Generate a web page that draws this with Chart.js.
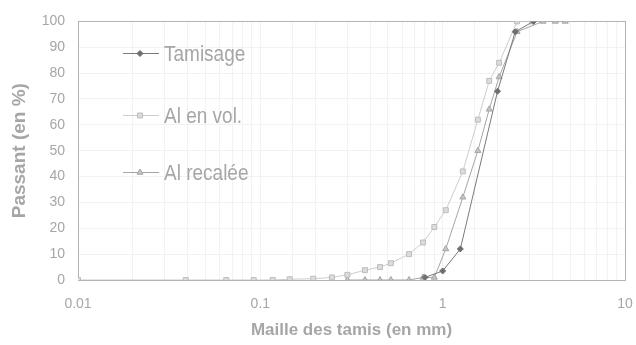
<!DOCTYPE html>
<html>
<head>
<meta charset="utf-8">
<script src="https://cdn.jsdelivr.net/npm/chart.js@4/dist/chart.umd.min.js"></script>
<style>
  html, body { margin: 0; padding: 0; background: #fff; }
  #wrap { width: 636px; height: 345px; position: relative; }
</style>
</head>
<body>
<div id="wrap"><canvas id="c" width="636" height="345"></canvas></div>
<script>
// Sieve openings (mm) and passing percentages
const tamisageX = [0.8, 1.0, 1.25, 2.0, 2.5, 3.15];
const tamisageY = [1, 3.5, 12, 73, 96, 100];

const aiVolX = [0.01, 0.039, 0.065, 0.092, 0.117, 0.145, 0.195, 0.247, 0.3, 0.375, 0.453, 0.52, 0.654, 0.78, 0.9, 1.04, 1.29, 1.56, 1.8, 2.04, 2.56, 3.1];
const aiVolY = [0, 0, 0, 0, 0, 0.3, 0.5, 1, 2, 3.8, 5, 6.5, 10, 14.5, 20.5, 27, 42, 62, 77, 84, 100, 100];

const aiRecX = [0.3, 0.375, 0.453, 0.52, 0.654, 0.78, 0.9, 1.04, 1.29, 1.56, 1.8, 2.04, 2.56, 3.55, 4.15, 4.7];
const aiRecY = [0, 0, 0, 0, 0, 1, 1, 12, 32, 50, 66, 78.5, 96, 100, 100, 100];

const xTickLabels = ['0.01', '0.1', '1', '10'];
const yTicks = [0, 10, 20, 30, 40, 50, 60, 70, 80, 90, 100];

const seriesNames = ['Tamisage', 'Al en vol.', 'Al recalée'];

const toPoints = (xs, ys) => xs.map((x, i) => ({ x: x, y: ys[i] }));

const txt = '#a6a6a6';
const FONT = '"Liberation Sans", Arial, sans-serif';

// Frame around the plotting area
const frame = {
  id: 'frame',
  beforeDatasetsDraw(chart) {
    const a = chart.chartArea;
    const ctx = chart.ctx;
    ctx.save();
    ctx.strokeStyle = '#b4b4b4';
    ctx.lineWidth = 1;
    ctx.strokeRect(Math.round(a.left) + 0.5, Math.round(a.top) + 0.5,
                   Math.round(a.right - a.left), Math.round(a.bottom - a.top));
    ctx.restore();
  }
};

// Legend drawn inside the plot area, with each dataset's own line and marker
const innerLegend = {
  id: 'innerLegend',
  afterDatasetsDraw(chart) {
    const ctx = chart.ctx;
    const rows = [53, 115, 172];
    ctx.save();
    chart.data.datasets.forEach((ds, i) => {
      const y = rows[i] + 0.5;
      ctx.strokeStyle = ds.borderColor;
      ctx.lineWidth = 1;
      ctx.beginPath();
      ctx.moveTo(123, y);
      ctx.lineTo(159, y);
      ctx.stroke();
      ctx.fillStyle = ds.pointBackgroundColor;
      ctx.strokeStyle = ds.pointBorderColor;
      Chart.helpers.drawPoint(ctx, {
        pointStyle: ds.pointStyle,
        radius: ds.pointRadius,
        rotation: 0,
        borderWidth: 1
      }, 140, y);
      // label, slightly tall lettering
      ctx.save();
      ctx.translate(164, y + 1);
      ctx.scale(1, 1.15);
      ctx.fillStyle = txt;
      ctx.font = '19px ' + FONT;
      ctx.textBaseline = 'middle';
      ctx.textAlign = 'left';
      ctx.fillText(ds.label, 0, 0);
      ctx.restore();
    });
    ctx.restore();
  }
};

const datasets = [
  {
    label: seriesNames[0],
    data: toPoints(tamisageX, tamisageY),
    borderColor: '#7a7a7a',
    pointStyle: 'rectRot',
    pointRadius: 3,
    pointBorderColor: '#6e6e6e',
    pointBackgroundColor: '#6e6e6e',
    borderWidth: 1,
    tension: 0
  },
  {
    label: seriesNames[1],
    data: toPoints(aiVolX, aiVolY),
    borderColor: '#cdcdcd',
    pointStyle: 'rect',
    pointRadius: 3.5,
    pointBorderColor: '#bdbdbd',
    pointBackgroundColor: '#dcdcdc',
    borderWidth: 1,
    tension: 0
  },
  {
    label: seriesNames[2],
    data: toPoints(aiRecX, aiRecY),
    borderColor: '#a6a6a6',
    pointStyle: 'triangle',
    pointRadius: 3.5,
    pointBorderColor: '#a6a6a6',
    pointBackgroundColor: '#c4c4c4',
    borderWidth: 1,
    tension: 0
  }
];

new Chart(document.getElementById('c'), {
  type: 'line',
  data: { datasets: datasets },
  options: {
    responsive: false,
    animation: false,
    devicePixelRatio: 1,
    layout: { padding: { top: 19, right: 11, left: 0, bottom: 0 } },
    plugins: {
      legend: { display: false },
      tooltip: { enabled: false }
    },
    scales: {
      x: {
        type: 'logarithmic',
        min: 0.01,
        max: 10,
        border: { display: true, color: '#b4b4b4' },
        grid: { color: '#f2f2f2', drawTicks: false },
        ticks: {
          color: txt,
          font: { family: FONT, size: 14 },
          padding: 16,
          maxRotation: 0,
          autoSkip: false,
          callback: function (v) {
            const s = String(+v.toPrecision(3));
            return xTickLabels.includes(s) ? s : '';
          }
        },
        title: {
          display: true,
          text: 'Maille des tamis (en mm)',
          color: txt,
          font: { family: FONT, size: 17, weight: 'bold' },
          padding: { top: 0 }
        },
        afterFit: function (s) {
          s.height = 65;
          s.paddingLeft = 0;
          s.paddingRight = 0;
        }
      },
      y: {
        min: 0,
        max: 100,
        border: { display: true, color: '#b4b4b4' },
        grid: { color: '#f2f2f2', drawTicks: false },
        afterBuildTicks: function (s) { s.ticks = yTicks.map(v => ({ value: v })); },
        ticks: {
          color: txt,
          font: { family: FONT, size: 14 },
          padding: 13,
          callback: v => String(v)
        },
        title: {
          display: true,
          text: 'Passant (en %)',
          color: txt,
          font: { family: FONT, size: 19, weight: 'bold' },
          padding: { top: 8, bottom: 0 }
        },
        afterFit: function (s) { s.width = 78; }
      }
    }
  },
  plugins: [frame, innerLegend]
});
</script>
</body>
</html>
